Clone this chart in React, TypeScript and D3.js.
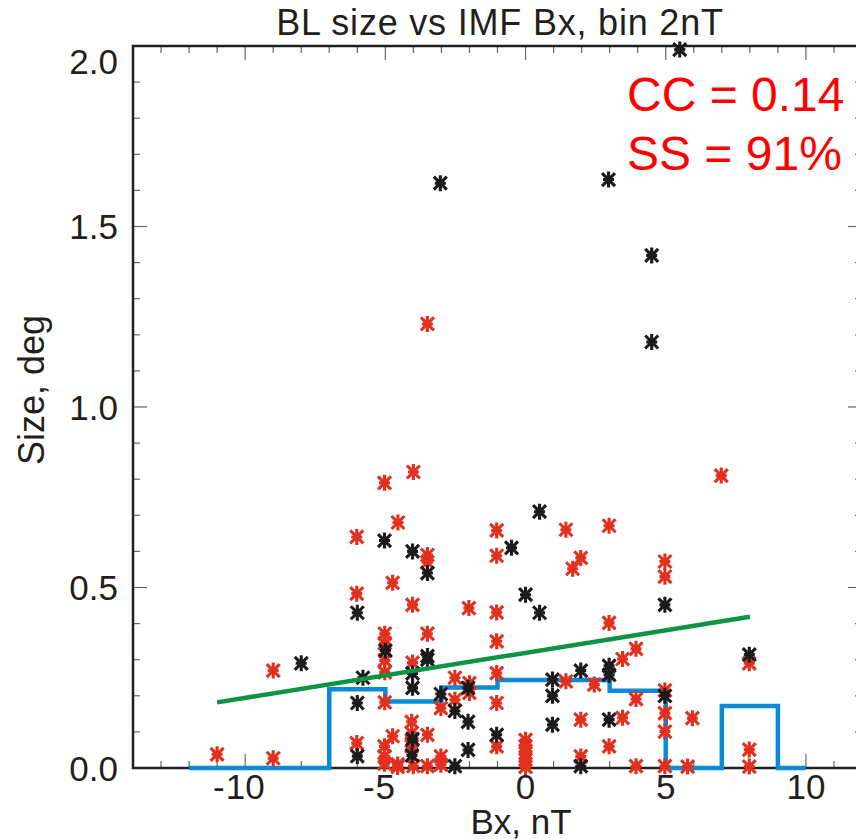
import React from "react";
import * as d3 from "d3";

// ---------- data ----------
const titleText = "BL size vs IMF Bx, bin 2nT";
const xLabel = "Bx, nT";
const yLabel = "Size, deg";
const statLines = ["CC = 0.14", "SS = 91%"];

const xMajorTicks = [-10, -5, 0, 5, 10];
const yMajorTicks = [0, 0.5, 1.0, 1.5, 2.0];

// black asterisks
const blackX = [-8.0, -6.0, -6.0, -6.0, -5.8, -5.03, -5.0, -4.03, -4.03, -4.03, -4.03, -4.05,
  -3.5, -3.5, -3.5, -3.02, -3.04, -2.52, -2.52, -2.05, -2.05, -2.05, -1.03, -0.5, 0.0, 0.5, 0.5,
  0.96, 0.96, 0.96, 1.97, 1.97, 2.98, 2.98, 2.98, 2.96, 4.5, 4.5, 4.97, 4.97, 5.5, 7.98];
const blackY = [0.29, 0.43, 0.18, 0.033, 0.25, 0.63, 0.325, 0.60, 0.262, 0.222, 0.08, 0.035,
  0.54, 0.31, 0.30, 0.205, 1.62, 0.158, 0.005, 0.222, 0.128, 0.05, 0.092, 0.61, 0.48, 0.71, 0.43,
  0.245, 0.2, 0.12, 0.27, 0.005, 0.283, 0.258, 0.134, 1.63, 1.42, 1.18, 0.452, 0.2, 1.99, 0.314];

// red asterisks
const redX = [-11.0, -9.0, -9.0, 6.98, -3.5, -4.0, -5.03, -4.55, -6.02, -3.5, -3.5, -4.74, -6.02,
  -4.03, -2.02, -3.5, -5.02, -5.02, -5.02, -5.02, -4.03, -2.52, -2.0, -2.0, -2.52, -3.02, -5.02,
  -6.02, -4.06, -4.06, -4.06, -4.06, -3.5, -4.74, -5.03, -5.03, -5.03, -4.56, -4.56, -3.02, -3.02,
  -4.0, -3.5, -1.03, -1.03, -1.03, -1.03, -1.03, -1.03, -1.03, 0.0, 0.0, 0.0, 0.0, 0.0, 1.44, 2.98,
  1.97, 1.68, 2.98, 3.46, 3.94, 1.44, 2.45, 3.94, 1.97, 3.46, 2.98, 1.97, 3.94, 4.97, 4.97, 4.97,
  4.97, 4.97, 4.97, 5.95, 5.78, 7.98, 7.98, 7.98];
const redY = [0.038, 0.027, 0.27, 0.81, 1.23, 0.82, 0.79, 0.68, 0.64, 0.59, 0.57, 0.513, 0.483,
  0.452, 0.443, 0.372, 0.372, 0.346, 0.298, 0.265, 0.292, 0.25, 0.235, 0.208, 0.189, 0.166, 0.182,
  0.069, 0.128, 0.097, 0.075, 0.06, 0.092, 0.088, 0.06, 0.032, 0.012, 0.01, 0.003, 0.032, 0.009,
  0.005, 0.005, 0.658, 0.588, 0.431, 0.351, 0.263, 0.18, 0.06, 0.078, 0.06, 0.041, 0.023, 0.003,
  0.66, 0.671, 0.582, 0.552, 0.402, 0.302, 0.33, 0.24, 0.231, 0.191, 0.134, 0.139, 0.06, 0.032,
  0.005, 0.572, 0.53, 0.215, 0.152, 0.101, 0.005, 0.138, 0.004, 0.29, 0.051, 0.004];

// binned medians (2 nT bins)
const binCenters = [-12, -10, -8, -6, -4, -2, 0, 2, 4, 6, 8, 10];
const binMedians = [0, 0, 0, 0.218, 0.184, 0.223, 0.244, 0.244, 0.214, 0, 0.172, 0];

// linear fit
const fitRange = [-11, 8];
const fitIntercept = 0.319;
const fitSlope = 0.01247;

// ---------- layout ----------
const W = 856;
const H = 839;
const FONT = "'Liberation Sans', Arial, Helvetica, sans-serif";

export default function App() {
  const x = d3.scaleLinear().domain([-14, 12]).range([133, 862]);
  const y = d3.scaleLinear().domain([0, 2]).range([768, 46]);

  const xMinor = d3.range(-14, 12.001, 1);
  const yMinor = d3.range(0, 2.0001, 0.1);

  const histPath = d3
    .line<number>()
    .x((_, i) => x(binCenters[i]))
    .y((d) => y(d))
    .curve(d3.curveStep)(binMedians) as string;

  const fitPath = d3
    .line<number>()
    .x((d) => x(d))
    .y((d) => y(fitIntercept + fitSlope * d))(fitRange) as string;

  const star = "M0,-8V8M-6.5,-6.5L6.5,6.5M-6.5,6.5L6.5,-6.5M-5.5,0H5.5";

  const [x0, x1] = x.range();
  const [y0, y1] = y.range();
  const axisColor = "#231f20";
  const tickFs = 35;
  const digitW = 0.556 * tickFs;

  return (
    <svg width={W} height={H} style={{ position: "absolute", left: 0, top: 0, background: "#fff" }}>
      <rect x={0} y={0} width={W} height={H} fill="#fff" />
      {/* minor / major ticks */}
      <g stroke="#666" strokeWidth={1.2}>
        {xMinor.map((v) => {
          const major = xMajorTicks.includes(v);
          const len = major ? 14 : 7;
          return (
            <g key={"xt" + v}>
              <line x1={x(v)} x2={x(v)} y1={y0} y2={y0 - len} />
              <line x1={x(v)} x2={x(v)} y1={y1} y2={y1 + len} />
            </g>
          );
        })}
        {yMinor.map((v) => {
          const major = Math.abs(v * 2 - Math.round(v * 2)) < 1e-6;
          const len = major ? 14 : 7;
          return (
            <g key={"yt" + v.toFixed(1)}>
              <line x1={x0} x2={x0 + len} y1={y(v)} y2={y(v)} />
              <line x1={x1} x2={x1 - len} y1={y(v)} y2={y(v)} />
            </g>
          );
        })}
      </g>
      {/* frame */}
      <rect x={x0} y={y1} width={x1 - x0} height={y0 - y1} fill="none" stroke={axisColor} strokeWidth={2.5} />

      {/* histogram of medians */}
      <path d={histPath} fill="none" stroke="#0a8ad8" strokeWidth={4.5} strokeLinejoin="miter" />

      {/* points */}
      <g stroke="#e2301f" strokeWidth={3.1} fill="none">
        {redX.map((v, i) => (
          <path key={"r" + i} d={star} transform={`translate(${x(v)},${y(redY[i])})`} />
        ))}
      </g>
      <g stroke="#1c1a1a" strokeWidth={3.1} fill="none">
        {blackX.map((v, i) => (
          <path key={"b" + i} d={star} transform={`translate(${x(v)},${y(blackY[i])})`} />
        ))}
      </g>

      {/* fit line */}
      <path d={fitPath} fill="none" stroke="#0c9444" strokeWidth={4.5} />

      {/* tick labels */}
      <g fontFamily={FONT} fontSize={tickFs} fill="#231f20">
        {xMajorTicks.map((v) => {
          const s = String(Math.abs(v));
          const half = (s.length * digitW) / 2;
          return (
            <g key={"xl" + v}>
              <text x={x(v)} y={799} textAnchor="middle">{s}</text>
              {v < 0 && (
                <text x={x(v) - half - 1} y={799} textAnchor="end">-</text>
              )}
            </g>
          );
        })}
        {yMajorTicks.map((v) => (
          <text key={"yl" + v} x={118} y={Math.max(y(v), 61)} dy="0.36em" textAnchor="end">
            {v.toFixed(1)}
          </text>
        ))}
      </g>

      {/* titles */}
      <text x={500} y={35} textAnchor="middle" fontFamily={FONT} fontSize={36} letterSpacing={0.8} fill="#231f20">
        {titleText}
      </text>
      <text x={521} y={834} textAnchor="middle" fontFamily={FONT} fontSize={35} fill="#231f20">
        {xLabel}
      </text>
      <text transform="translate(44,390) rotate(-90)" textAnchor="middle" fontFamily={FONT} fontSize={36} fill="#231f20">
        {yLabel}
      </text>

      {/* statistics */}
      <g fontFamily={FONT} fontSize={48} fill="#ff0000">
        <text x={627} y={111}>{statLines[0]}</text>
        <text x={627} y={170}>{statLines[1]}</text>
      </g>
    </svg>
  );
}
